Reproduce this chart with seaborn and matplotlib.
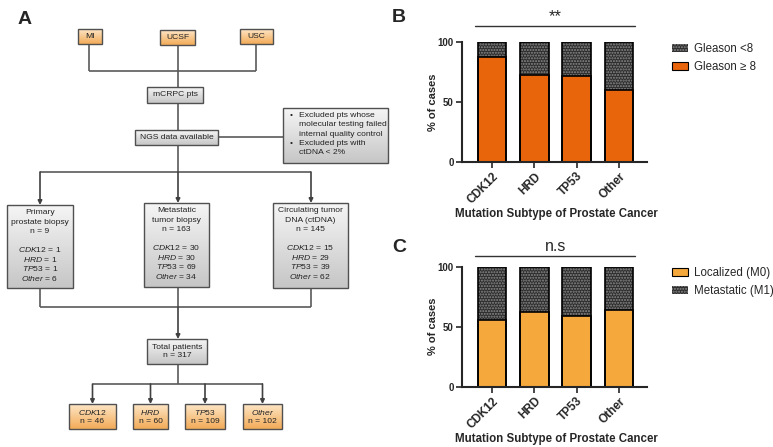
import numpy as np
import pandas as pd
import matplotlib
matplotlib.use('Agg')
import matplotlib.pyplot as plt
import seaborn as sns
from matplotlib.colors import LinearSegmentedColormap
from matplotlib.patches import Rectangle, Patch

# bar panels (B, C): % of cases per mutation subtype
subtypes = ['CDK12', 'HRD', 'TP53', 'Other']
gleason_ge8 = [87.5, 72.5, 71.5, 60.0]
gleason_lt8 = [12.5, 27.5, 28.5, 40.0]
localized_m0 = [55.5, 62.0, 59.0, 64.0]
metastatic_m1 = [44.5, 38.0, 41.0, 36.0]

# flowchart (A)
sites = ['MI', 'UCSF', 'USC']
sources = ['Primary\nprostate biopsy', 'Metastatic\ntumor biopsy', 'Circulating tumor\nDNA (ctDNA)']
source_n = [9, 163, 145]
cdk12_n = [1, 30, 15]
hrd_n = [1, 30, 29]
tp53_n = [1, 69, 39]
other_n = [6, 34, 62]
subtype_n = [46, 60, 109, 102]
total_n = 317
excluded = ['Excluded pts whose\nmolecular testing failed\ninternal quality control',
            'Excluded pts with\nctDNA < 2%']

sns.set_style('white')
plt.rcParams['font.family'] = ['Liberation Sans', 'DejaVu Sans']
plt.rcParams['mathtext.fontset'] = 'custom'
plt.rcParams['mathtext.it'] = 'Liberation Sans:italic'
plt.rcParams['mathtext.rm'] = 'Liberation Sans'
plt.rcParams['hatch.linewidth'] = 1.0

fig = plt.figure(figsize=(7.73, 4.47), dpi=100)

# ---------- panel A: flowchart drawn in pixel space ----------
axA = fig.add_axes([0, 0, 1, 1])
axA.axis('off')
line_c = '#5a5a5a'
orange_cmap = LinearSegmentedColormap.from_list('o', ['#fde6c6', '#f3ab58'])
gray_cmap = LinearSegmentedColormap.from_list('g', ['#f5f5f5', '#c6c6c6'])
grad = np.linspace(0, 1, 64).reshape(-1, 1)
fs = 6.1


def label(x, y, s, ls=1.15, ha='center', va='center'):
    axA.text(x, y, s, ha=ha, va=va, fontsize=fs, linespacing=ls,
             zorder=4, color='#222222')


def box(x0, y0, x1, y1, cmap, text=None, ls=1.15):
    axA.imshow(grad, extent=(x0, x1, y1, y0), cmap=cmap, aspect='auto',
               zorder=2, interpolation='bilinear')
    axA.add_patch(Rectangle((x0, y0), x1 - x0, y1 - y0, fill=False,
                            ec='#505050', lw=1.0, zorder=3))
    if text is not None:
        label((x0 + x1) / 2, (y0 + y1) / 2, text, ls)


def seg(xs, ys):
    axA.plot(xs, ys, color=line_c, lw=1.2, zorder=1, solid_capstyle='butt')


def arrow(x, y0, y1):
    axA.annotate('', xy=(x, y1), xytext=(x, y0),
                 arrowprops=dict(arrowstyle='-|>', color='#404040', lw=1.2,
                                 mutation_scale=6, shrinkA=0, shrinkB=0), zorder=1)


def it(s):
    return r'$\mathit{' + s + '}$'


# top sites
site_boxes = [(78, 29, 102, 44), (160, 30, 195, 45), (240, 29, 273, 44)]
for name, (x0, y0, x1, y1) in zip(sites, site_boxes):
    box(x0, y0, x1, y1, orange_cmap, name)
seg([89, 89], [44, 71])
seg([256, 256], [44, 71])
seg([89, 256], [71, 71])
seg([178, 178], [45, 87])

box(147, 87, 203, 103, gray_cmap, 'mCRPC pts')
seg([178, 178], [103, 130])
box(135, 130, 218, 145, gray_cmap, 'NGS data available')
seg([218, 283], [137, 137])
box(283, 108, 388, 163, gray_cmap)
label(290, 112, '•\n\n\n•', ls=1.45, ha='left', va='top')
label(299, 112, excluded[0] + '\n' + excluded[1], ls=1.45, ha='left', va='top')

# sample sources
seg([178, 178], [145, 172])
seg([40, 311], [172, 172])
src_boxes = [(7, 205, 73, 288), (144, 203, 209, 287), (273, 203, 348, 288)]
src_x = [40, 178, 311]
for i, (x0, y0, x1, y1) in enumerate(src_boxes):
    arrow(src_x[i], 172, y0)
    box(x0, y0, x1, y1, gray_cmap)
    cx = (x0 + x1) / 2
    label(cx, y0 + 17, f'{sources[i]}\nn = {source_n[i]}', ls=1.45)
    genes = (f'{it("CDK12")} = {cdk12_n[i]}\n{it("HRD")} = {hrd_n[i]}\n'
             f'{it("TP53")} = {tp53_n[i]}\n{it("Other")} = {other_n[i]}')
    label(cx, y0 + 59, genes, ls=1.06)
    seg([src_x[i], src_x[i]], [y1, 307])
seg([40, 311], [307, 307])
arrow(178, 307, 339)
box(147, 339, 207, 364, gray_cmap, f'Total patients\nn = {total_n}', ls=1.35)
seg([178, 178], [364, 384])
seg([93, 263], [384, 384])
sub_boxes = [(69, 404, 116, 429), (133, 404, 168, 429), (185, 404, 225, 429), (243, 404, 282, 429)]
for name, n, (x0, y0, x1, y1) in zip(subtypes, subtype_n, sub_boxes):
    cx = (x0 + x1) / 2
    arrow(cx, 384, y0)
    box(x0, y0, x1, y1, orange_cmap, f'{it(name)}\nn = {n}')

axA.set_xlim(0, 773)
axA.set_ylim(447, 0)
axA.text(25, 20, 'A', fontsize=14, fontweight='bold', ha='center', va='center')
axA.text(399, 18, 'B', fontsize=14, fontweight='bold', ha='center', va='center')
axA.text(399, 247, 'C', fontsize=14, fontweight='bold', ha='center', va='center')

# ---------- panels B and C: stacked bars ----------
dark = '#2c2c2c'
hatch_c = '#8c8c8c'
hatch = '......'


def stacked(ax, lower, upper, lower_color, sig, sig_y, txt_y, sig_fs):
    df = pd.DataFrame({'subtype': subtypes, 'lower': lower,
                       'total': np.add(lower, upper)})
    sns.barplot(data=df, x='subtype', y='total', color=dark, saturation=1,
                width=0.68, edgecolor=hatch_c, hatch=hatch, linewidth=0, ax=ax)
    sns.barplot(data=df, x='subtype', y='lower', color=lower_color, saturation=1,
                width=0.68, edgecolor='black', linewidth=1.2, ax=ax)
    sns.barplot(data=df, x='subtype', y='total', fill=False, color='black',
                width=0.68, linewidth=1.2, ax=ax)
    ax.set_xlim(-0.71, 3.66)
    ax.set_ylim(0, 100)
    ax.set_yticks([0, 50, 100])
    sns.despine(ax=ax)
    for s in ['left', 'bottom']:
        ax.spines[s].set_linewidth(1.5)
    ax.tick_params(axis='both', direction='out', length=4, width=1.2,
                   bottom=True, left=True, pad=2)
    ax.tick_params(axis='y', labelsize=7)
    ax.tick_params(axis='x', labelsize=8.5)
    for lab in ax.get_yticklabels():
        lab.set_fontweight('bold')
    for lab in ax.get_xticklabels():
        lab.set_fontweight('bold')
        lab.set_rotation(45)
        lab.set_ha('right')
        lab.set_rotation_mode('anchor')
    ax.set_ylabel('% of cases', fontsize=8, fontweight='bold')
    ax.yaxis.set_label_coords(-0.13, 0.5)
    ax.set_xlabel('Mutation Subtype of Prostate Cancer', fontsize=8.3, fontweight='bold')
    ax.xaxis.set_label_coords(0.508, -0.385)
    tr = ax.get_xaxis_transform()
    ax.plot([-0.4, 3.38], [sig_y, sig_y], color='#333333', lw=1.0,
            transform=tr, clip_on=False)
    ax.text(1.5, txt_y, sig, transform=tr, ha='center', va='center', fontsize=sig_fs)


axB = fig.add_axes([462 / 773, 1 - 162 / 447, 185 / 773, 120 / 447])
stacked(axB, gleason_ge8, gleason_lt8, '#e8650c', '**', 1.133, 1.215, 12)
axC = fig.add_axes([462 / 773, 1 - 386.7 / 447, 185 / 773, 120 / 447])
stacked(axC, localized_m0, metastatic_m1, '#f5a83c', 'n.s', 1.089, 1.17, 11.5)

hatched = Patch(facecolor=dark, edgecolor=hatch_c, hatch=hatch, lw=0)
leg_kw = dict(loc='upper left', frameon=False, fontsize=8.3, borderpad=0,
              borderaxespad=0, handlelength=1.4, handleheight=0.7,
              handletextpad=0.55, labelspacing=0.55)
fig.legend([hatched, Patch(facecolor='#e8650c', edgecolor='black', lw=0.8)],
           ['Gleason <8', 'Gleason ≥ 8'],
           bbox_to_anchor=(672 / 773, 1 - 43 / 447), **leg_kw)
fig.legend([Patch(facecolor='#f5a83c', edgecolor='black', lw=0.8), hatched],
           ['Localized (M0)', 'Metastatic (M1)'],
           bbox_to_anchor=(672 / 773, 1 - 267 / 447), **leg_kw)

fig.savefig('out.png', dpi=100)
